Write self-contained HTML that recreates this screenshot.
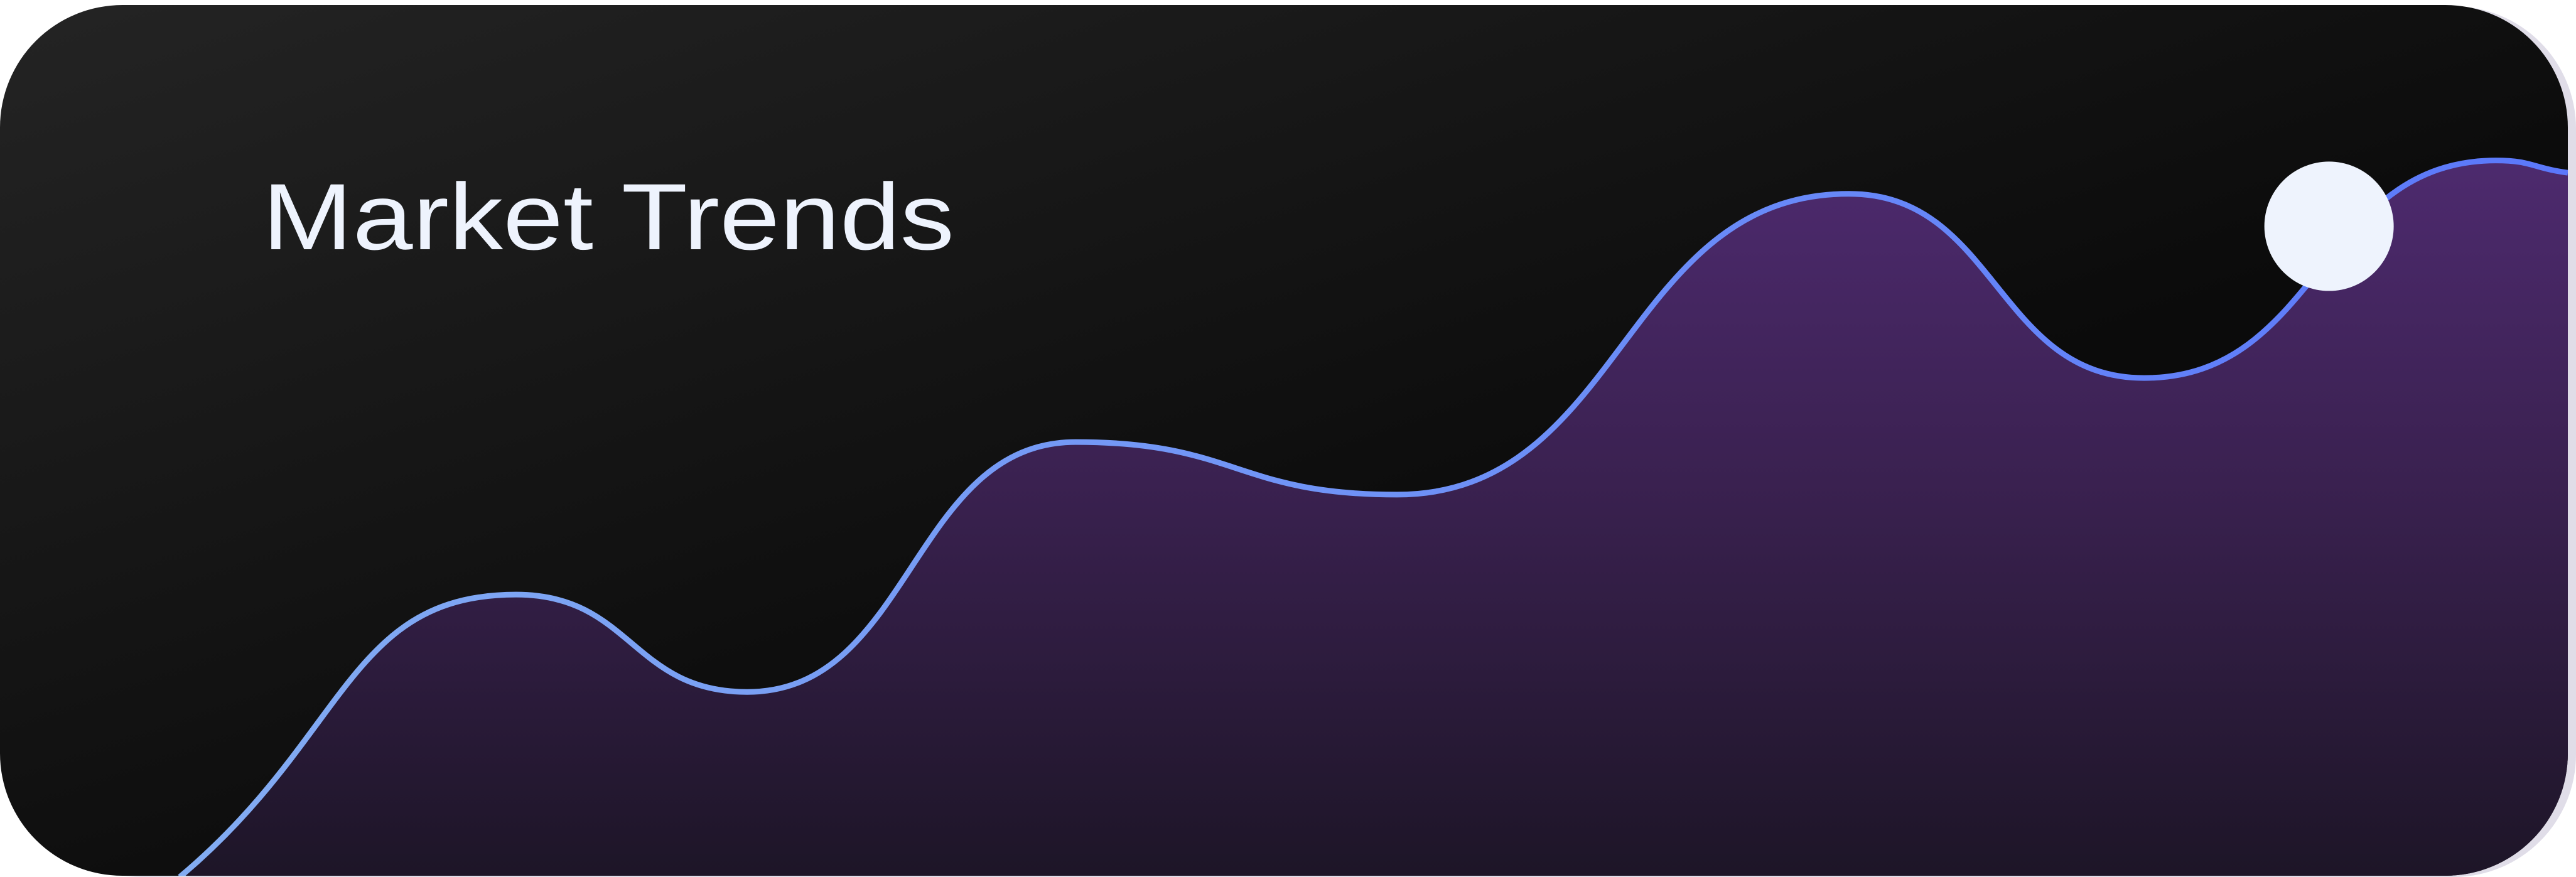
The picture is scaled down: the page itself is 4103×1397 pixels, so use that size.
<!DOCTYPE html>
<html><head><meta charset="utf-8"><style>
html,body{margin:0;padding:0;background:#fff;width:4103px;height:1397px;overflow:hidden}
svg{display:block}
</style></head><body>
<svg id="chart" width="4103" height="1397" viewBox="0 0 4103 1397" xmlns="http://www.w3.org/2000/svg">
<defs>
<linearGradient id="bg" x1="0" y1="0" x2="1" y2="1" gradientUnits="objectBoundingBox">
<stop offset="0" stop-color="#242424"/><stop offset="0.6" stop-color="#0b0b0b"/><stop offset="1" stop-color="#0a0a0a"/></linearGradient>
<linearGradient id="fill" x1="0" y1="0" x2="0" y2="1">
<stop offset="0" stop-color="#4d2a6e"/><stop offset="0.45" stop-color="#3a2150"/><stop offset="1" stop-color="#1d1527"/></linearGradient>
<linearGradient id="stroke" x1="0" y1="0" x2="4090" y2="0" gradientUnits="userSpaceOnUse">
<stop offset="0" stop-color="#86b0f2"/><stop offset="1" stop-color="#5b78fa"/></linearGradient>
<clipPath id="card"><rect x="0" y="8" width="4090" height="1387" rx="195" ry="195"/></clipPath>
</defs>
<rect x="30" y="10" width="4073" height="1387" rx="195" ry="195" fill="#e0dde8"/>
<rect x="0" y="8" width="4090" height="1387" rx="195" ry="195" fill="url(#bg)"/>
<g clip-path="url(#card)" id="plot"></g>
<text x="418" y="397" font-family="Liberation Sans, sans-serif" font-size="150" fill="#eef3fd" textLength="1102" lengthAdjust="spacingAndGlyphs">Market Trends</text>
<circle id="marker" cx="3709" cy="360" r="103" fill="#eef3fd"/>
</svg>
<script>
const times=[7,20.1,29.1,41.9,54.4,72,83.5,97.2,100];
const values=[0,32.2,21.1,49.6,43.6,77.9,56.9,81.7,80.3];
const markerTime=90.7;
const markerValue=74.2;
function xScale(t){return t/100*4090;}
function yScale(v){return 1397-v*13.97;}
const pts=times.map((t,i)=>[xScale(t),yScale(values[i])]);
let d='M'+pts[0][0]+','+pts[0][1];
const n=pts.length;
for(let i=1;i<n;i++){
  const p=pts[i-1],q=pts[i],dx=(q[0]-p[0])*0.5;
  const c1y=i===1?p[1]-(p[1]-q[1])*0.5:p[1];
  const c2y=i===n-1?q[1]-(q[1]-p[1])*0.4:q[1];
  d+=' C'+(p[0]+dx)+','+c1y+' '+(q[0]-dx)+','+c2y+' '+q[0]+','+q[1];
}
const g=document.getElementById('plot');
const ns='http://www.w3.org/2000/svg';
const area=document.createElementNS(ns,'path');
area.setAttribute('d',d+' L'+pts[n-1][0]+',1397 L'+pts[0][0]+',1397 Z');
area.setAttribute('fill','url(#fill)');


g.appendChild(area);
const line=document.createElementNS(ns,'path');
line.setAttribute('d',d);
line.setAttribute('fill','none');
line.setAttribute('stroke','url(#stroke)');
line.setAttribute('stroke-width','9');


g.appendChild(line);
const m=document.getElementById('marker');
m.setAttribute('cx',xScale(markerTime));
m.setAttribute('cy',yScale(markerValue));
</script>
</body></html>
